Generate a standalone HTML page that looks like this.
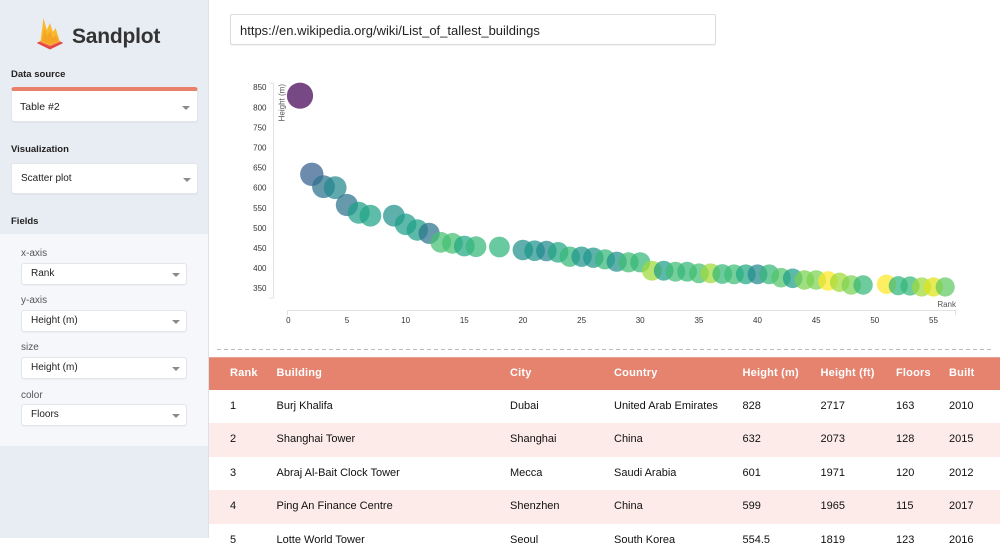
<!DOCTYPE html>
<html>
<head>
<meta charset="utf-8">
<style>
*{margin:0;padding:0;box-sizing:border-box;}
html,body{width:1000px;height:538px;overflow:hidden;background:#fff;font-family:"Liberation Sans",Arial,sans-serif;color:#222;}
.abs{position:absolute;}
#side{position:absolute;left:0;top:0;width:209px;height:538px;background:#e8ecf3;border-right:1px solid #dde2ea;}
#fields{position:absolute;left:0;top:234px;width:208px;height:212px;background:#f5f7fa;}
.lbl{position:absolute;font-size:9.5px;font-weight:bold;color:#222;line-height:12px;}
.flbl{position:absolute;font-size:10px;color:#555;line-height:12px;}
.sel{position:absolute;background:#fff;border:1px solid #e2e5ea;border-radius:3px;box-shadow:0 1px 1px rgba(0,0,0,0.04);}
.sel span{position:absolute;font-size:10px;color:#222;line-height:12px;}
.car{position:absolute;width:0;height:0;border-left:4px solid transparent;border-right:4px solid transparent;border-top:4px solid #8a8a8a;}
#url{position:absolute;left:230px;top:14px;width:486px;height:31px;border:1px solid #dcdcdc;border-radius:2px;box-shadow:0 1px 1px rgba(0,0,0,0.05);}
#url span{position:absolute;left:9px;top:8px;font-size:13px;line-height:15px;color:#222;}
.row{position:absolute;left:209px;width:791px;height:33.4px;}
.cell{position:absolute;font-size:11px;line-height:13px;color:#111;}
.hd{position:absolute;font-size:11px;line-height:13px;color:#fff;font-weight:bold;letter-spacing:0.2px;}
</style>
</head>
<body>
<div id="side">
  <svg class="abs" style="left:0;top:0" width="209" height="60">
    <polygon points="36.7,43 50,36.5 63.3,43 50,49.5" fill="#e4473f"/>
    <polygon points="39.5,42.2 50,37.3 60.5,42.2 50,46.5" fill="#f36b62"/>
    <path d="M40.5,41.5 L43.5,18 L46.8,30 L50,23 L52.8,32 L55.6,28 L59.8,41.5 L50,45.5 Z" fill="#f8b92e"/>
    <path d="M42,41 L44.5,28 L47,36 L50,31 L53,38 L56,35 L58.5,41 L50,44.5 Z" fill="#f5a523"/>
    <text x="72" y="43" font-family="Liberation Sans, Arial, sans-serif" font-weight="bold" font-size="21" fill="#333" letter-spacing="-0.2">Sandplot</text>
  </svg>
  <div class="lbl" style="left:11px;top:69px;">Data source</div>
  <div class="sel" style="left:11px;top:87px;width:187px;height:35px;border-top:4px solid #e8806c;border-radius:3px 3px 3px 3px;">
    <span style="left:8px;top:10px;font-size:10.5px;">Table #2</span>
    <div class="car" style="left:170px;top:15px;"></div>
  </div>
  <div class="lbl" style="left:11px;top:144px;">Visualization</div>
  <div class="sel" style="left:11px;top:163px;width:187px;height:31px;">
    <span style="left:9px;top:9px;">Scatter plot</span>
    <div class="car" style="left:171px;top:14px;"></div>
  </div>
  <div class="lbl" style="left:11px;top:216px;">Fields</div>
  <div id="fields">
    <div class="flbl" style="left:21px;top:14px;">x-axis</div>
    <div class="sel" style="left:21px;top:28.5px;width:166px;height:22px;">
      <span style="left:9px;top:4px;">Rank</span>
      <div class="car" style="left:150px;top:9px;"></div>
    </div>
    <div class="flbl" style="left:21px;top:61px;">y-axis</div>
    <div class="sel" style="left:21px;top:76px;width:166px;height:22px;">
      <span style="left:9px;top:4px;">Height (m)</span>
      <div class="car" style="left:150px;top:9px;"></div>
    </div>
    <div class="flbl" style="left:21px;top:108px;">size</div>
    <div class="sel" style="left:21px;top:123px;width:166px;height:22px;">
      <span style="left:9px;top:4px;">Height (m)</span>
      <div class="car" style="left:150px;top:9px;"></div>
    </div>
    <div class="flbl" style="left:21px;top:155.5px;">color</div>
    <div class="sel" style="left:21px;top:170px;width:166px;height:22px;">
      <span style="left:9px;top:4px;">Floors</span>
      <div class="car" style="left:150px;top:9px;"></div>
    </div>
  </div>
</div>

<div id="url"><span>https://en.wikipedia.org/wiki/List_of_tallest_buildings</span></div>

<svg class="abs" style="left:0;top:0" width="1000" height="345" font-family="Liberation Sans, Arial, sans-serif">
  <!-- y axis -->
  <line x1="273.5" y1="83" x2="273.5" y2="298" stroke="#e2e2e2" stroke-width="1"/>
  <line x1="269" y1="298" x2="273.5" y2="298" stroke="#e2e2e2" stroke-width="1"/>
  <line x1="269" y1="83" x2="273.5" y2="83" stroke="#e2e2e2" stroke-width="1"/>
  <g font-size="8" fill="#333" text-anchor="end">
    <text x="266.5" y="90.2">850</text>
    <text x="266.5" y="110.3">800</text>
    <text x="266.5" y="130.4">750</text>
    <text x="266.5" y="150.5">700</text>
    <text x="266.5" y="170.6">650</text>
    <text x="266.5" y="190.7">600</text>
    <text x="266.5" y="210.8">550</text>
    <text x="266.5" y="230.9">500</text>
    <text x="266.5" y="251">450</text>
    <text x="266.5" y="271.1">400</text>
    <text x="266.5" y="291.2">350</text>
  </g>
  <text transform="translate(284.5,84) rotate(-90)" font-size="8" fill="#555" text-anchor="end">Height (m)</text>
  <!-- x axis -->
  <line x1="287.5" y1="310.5" x2="955.5" y2="310.5" stroke="#e2e2e2" stroke-width="1"/>
  <line x1="287.5" y1="310.5" x2="287.5" y2="315" stroke="#e2e2e2" stroke-width="1"/>
  <line x1="955.5" y1="310.5" x2="955.5" y2="315" stroke="#e2e2e2" stroke-width="1"/>
  <g font-size="8" fill="#333" text-anchor="middle">
    <text x="288.3" y="323">0</text>
    <text x="347" y="323">5</text>
    <text x="405.6" y="323">10</text>
    <text x="464.3" y="323">15</text>
    <text x="522.9" y="323">20</text>
    <text x="581.6" y="323">25</text>
    <text x="640.2" y="323">30</text>
    <text x="698.9" y="323">35</text>
    <text x="757.5" y="323">40</text>
    <text x="816.2" y="323">45</text>
    <text x="874.8" y="323">50</text>
    <text x="933.5" y="323">55</text>
  </g>
  <text x="956" y="307" font-size="8" fill="#555" text-anchor="end">Rank</text>
  <!-- bubbles -->
  <g fill-opacity="0.72">
    <circle cx="300.0" cy="95.7" r="13.1" fill="#440154"/>
    <circle cx="311.8" cy="174.3" r="11.7" fill="#355f8d"/>
    <circle cx="323.5" cy="186.7" r="11.4" fill="#2c718e"/>
    <circle cx="335.2" cy="187.7" r="11.4" fill="#23888e"/>
    <circle cx="346.9" cy="205" r="11.1" fill="#2c718e"/>
    <circle cx="358.7" cy="212.7" r="11" fill="#1f9e89"/>
    <circle cx="370.4" cy="215.7" r="10.9" fill="#20a486"/>
    <circle cx="393.9" cy="215.7" r="10.9" fill="#21918c"/>
    <circle cx="405.6" cy="224.3" r="10.8" fill="#1f9e89"/>
    <circle cx="417.3" cy="230" r="10.7" fill="#1fa088"/>
    <circle cx="429.1" cy="233.3" r="10.6" fill="#2c718e"/>
    <circle cx="440.8" cy="242.3" r="10.4" fill="#44bf70"/>
    <circle cx="452.5" cy="243.3" r="10.4" fill="#44bf70"/>
    <circle cx="464.3" cy="246" r="10.4" fill="#22a884"/>
    <circle cx="476.0" cy="246.7" r="10.4" fill="#35b779"/>
    <circle cx="499.4" cy="247" r="10.4" fill="#2fb47c"/>
    <circle cx="522.9" cy="250" r="10.3" fill="#21918c"/>
    <circle cx="534.6" cy="250.7" r="10.3" fill="#1f958b"/>
    <circle cx="546.4" cy="251" r="10.3" fill="#23888e"/>
    <circle cx="558.1" cy="252.3" r="10.3" fill="#22a884"/>
    <circle cx="569.8" cy="256.7" r="10.2" fill="#35b779"/>
    <circle cx="581.6" cy="256.7" r="10.2" fill="#1f958b"/>
    <circle cx="593.3" cy="257.7" r="10.2" fill="#1f958b"/>
    <circle cx="605.0" cy="259.3" r="10.1" fill="#35b779"/>
    <circle cx="616.7" cy="261.7" r="10.1" fill="#21918c"/>
    <circle cx="628.5" cy="262.3" r="10.1" fill="#3fbc73"/>
    <circle cx="640.2" cy="262.3" r="10.1" fill="#35b779"/>
    <circle cx="651.9" cy="270.7" r="9.9" fill="#a0da39"/>
    <circle cx="663.7" cy="270.7" r="9.9" fill="#1f9e89"/>
    <circle cx="675.4" cy="271.7" r="9.9" fill="#3fbc73"/>
    <circle cx="687.1" cy="271.7" r="9.9" fill="#35b779"/>
    <circle cx="698.9" cy="273.3" r="9.9" fill="#44bf70"/>
    <circle cx="710.6" cy="273.3" r="9.9" fill="#a0da39"/>
    <circle cx="722.3" cy="274" r="9.9" fill="#35b779"/>
    <circle cx="734.0" cy="274.3" r="9.9" fill="#3fbc73"/>
    <circle cx="745.8" cy="274.3" r="9.9" fill="#22a884"/>
    <circle cx="757.5" cy="274.3" r="9.9" fill="#23888e"/>
    <circle cx="769.2" cy="274.3" r="9.9" fill="#35b779"/>
    <circle cx="781.0" cy="277.7" r="9.8" fill="#52c569"/>
    <circle cx="792.7" cy="278.3" r="9.8" fill="#1f9e89"/>
    <circle cx="804.4" cy="280" r="9.8" fill="#7ad151"/>
    <circle cx="816.2" cy="280" r="9.8" fill="#7ad151"/>
    <circle cx="827.9" cy="281" r="9.8" fill="#fde725"/>
    <circle cx="839.6" cy="282.3" r="9.7" fill="#a0da39"/>
    <circle cx="851.3" cy="285" r="9.7" fill="#7ad151"/>
    <circle cx="863.1" cy="285" r="9.7" fill="#35b779"/>
    <circle cx="886.5" cy="284.3" r="9.7" fill="#fde725"/>
    <circle cx="898.3" cy="285.7" r="9.6" fill="#2fb47c"/>
    <circle cx="910.0" cy="286" r="9.6" fill="#35b779"/>
    <circle cx="921.7" cy="287" r="9.6" fill="#a0da39"/>
    <circle cx="933.5" cy="287" r="9.6" fill="#dfe318"/>
    <circle cx="945.2" cy="287" r="9.6" fill="#5ec962"/>
  </g>
</svg>

<svg class="abs" style="left:0;top:345px" width="1000" height="10">
  <line x1="217" y1="4.5" x2="992" y2="4.5" stroke="#bdbdbd" stroke-width="1" stroke-dasharray="4,3"/>
</svg>

<!-- table -->
<div class="row" style="top:356.7px;height:33.3px;background:#e5836f;border-top:1px solid #eaa090;">
  <div class="hd" style="left:21px;top:9.5px;">Rank</div>
  <div class="hd" style="left:67.5px;top:9.5px;">Building</div>
  <div class="hd" style="left:301px;top:9.5px;">City</div>
  <div class="hd" style="left:405px;top:9.5px;">Country</div>
  <div class="hd" style="left:533.5px;top:9.5px;">Height (m)</div>
  <div class="hd" style="left:611.5px;top:9.5px;">Height (ft)</div>
  <div class="hd" style="left:687px;top:9.5px;">Floors</div>
  <div class="hd" style="left:740px;top:9.5px;">Built</div>
</div>
<div class="row" style="top:390px;background:#fff;">
  <div class="cell" style="left:21px;top:10px;">1</div>
  <div class="cell" style="left:67.5px;top:10px;">Burj Khalifa</div>
  <div class="cell" style="left:301px;top:10px;">Dubai</div>
  <div class="cell" style="left:405px;top:10px;">United Arab Emirates</div>
  <div class="cell" style="left:533.5px;top:10px;">828</div>
  <div class="cell" style="left:611.5px;top:10px;">2717</div>
  <div class="cell" style="left:687px;top:10px;">163</div>
  <div class="cell" style="left:740px;top:10px;">2010</div>
</div>
<div class="row" style="top:423.4px;background:#fcebe8;">
  <div class="cell" style="left:21px;top:10px;">2</div>
  <div class="cell" style="left:67.5px;top:10px;">Shanghai Tower</div>
  <div class="cell" style="left:301px;top:10px;">Shanghai</div>
  <div class="cell" style="left:405px;top:10px;">China</div>
  <div class="cell" style="left:533.5px;top:10px;">632</div>
  <div class="cell" style="left:611.5px;top:10px;">2073</div>
  <div class="cell" style="left:687px;top:10px;">128</div>
  <div class="cell" style="left:740px;top:10px;">2015</div>
</div>
<div class="row" style="top:456.8px;background:#fff;">
  <div class="cell" style="left:21px;top:10px;">3</div>
  <div class="cell" style="left:67.5px;top:10px;">Abraj Al-Bait Clock Tower</div>
  <div class="cell" style="left:301px;top:10px;">Mecca</div>
  <div class="cell" style="left:405px;top:10px;">Saudi Arabia</div>
  <div class="cell" style="left:533.5px;top:10px;">601</div>
  <div class="cell" style="left:611.5px;top:10px;">1971</div>
  <div class="cell" style="left:687px;top:10px;">120</div>
  <div class="cell" style="left:740px;top:10px;">2012</div>
</div>
<div class="row" style="top:490.2px;background:#fcebe8;">
  <div class="cell" style="left:21px;top:10px;">4</div>
  <div class="cell" style="left:67.5px;top:10px;">Ping An Finance Centre</div>
  <div class="cell" style="left:301px;top:10px;">Shenzhen</div>
  <div class="cell" style="left:405px;top:10px;">China</div>
  <div class="cell" style="left:533.5px;top:10px;">599</div>
  <div class="cell" style="left:611.5px;top:10px;">1965</div>
  <div class="cell" style="left:687px;top:10px;">115</div>
  <div class="cell" style="left:740px;top:10px;">2017</div>
</div>
<div class="row" style="top:523.6px;background:#fff;">
  <div class="cell" style="left:21px;top:10px;">5</div>
  <div class="cell" style="left:67.5px;top:10px;">Lotte World Tower</div>
  <div class="cell" style="left:301px;top:10px;">Seoul</div>
  <div class="cell" style="left:405px;top:10px;">South Korea</div>
  <div class="cell" style="left:533.5px;top:10px;">554.5</div>
  <div class="cell" style="left:611.5px;top:10px;">1819</div>
  <div class="cell" style="left:687px;top:10px;">123</div>
  <div class="cell" style="left:740px;top:10px;">2016</div>
</div>
</body>
</html>
